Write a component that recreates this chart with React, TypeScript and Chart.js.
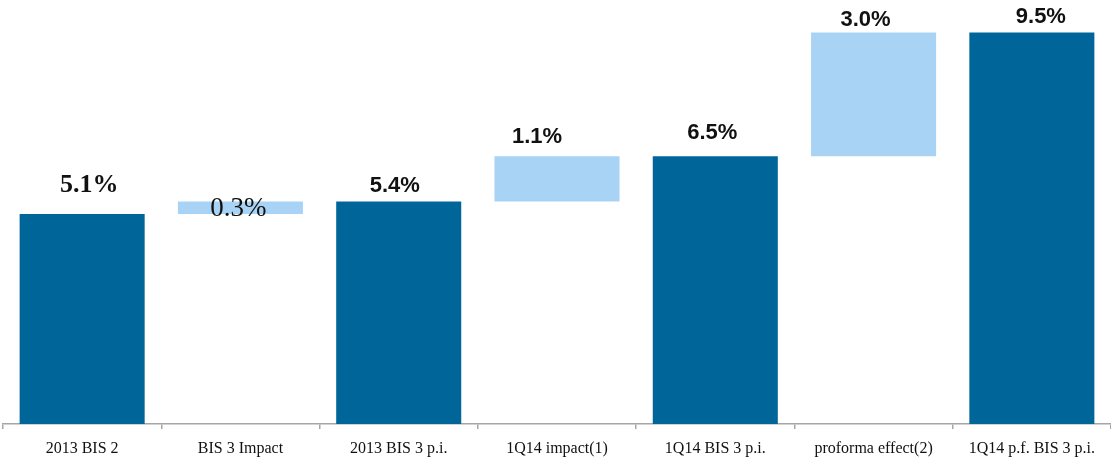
import React, { useEffect, useRef } from "react";
import { Chart, registerables } from "chart.js";

Chart.register(...registerables);

const categories = [
  "2013 BIS 2",
  "BIS 3 Impact",
  "2013 BIS 3 p.i.",
  "1Q14 impact(1)",
  "1Q14 BIS 3 p.i.",
  "proforma effect(2)",
  "1Q14 p.f. BIS 3 p.i.",
];
const barStarts = [0, 5.1, 0, 5.4, 0, 6.5, 0];
const barEnds = [5.1, 5.4, 5.4, 6.5, 6.5, 9.5, 9.5];
const valueLabels = ["5.1%", "0.3%", "5.4%", "1.1%", "6.5%", "3.0%", "9.5%"];
const isTotal = [true, false, true, false, true, false, true];

const DARK = "#006699";
const LIGHT = "#A9D3F5";
const AXIS = "#A6A6A6";

// label styling: font, horizontal nudge, gap above bar top (or "inside" centering)
const labelStyles = [
  { font: "bold 26px 'Liberation Serif'", dx: 7, gap: 22, inside: false },
  { font: "27px 'Liberation Serif'", dx: -2, gap: 0, inside: true },
  { font: "bold 22px 'Liberation Sans'", dx: -4, gap: 10, inside: false },
  { font: "bold 22px 'Liberation Sans'", dx: -20, gap: 13, inside: false },
  { font: "bold 22px 'Liberation Sans'", dx: -3, gap: 17, inside: false },
  { font: "bold 22px 'Liberation Sans'", dx: -8, gap: 7, inside: false },
  { font: "bold 22px 'Liberation Sans'", dx: 9, gap: 10, inside: false },
];

const labelPlugin = {
  id: "valueLabels",
  afterDatasetsDraw(chart: any) {
    const ctx = chart.ctx;
    const meta = chart.getDatasetMeta(0);
    ctx.save();
    ctx.fillStyle = "#111111";
    ctx.textAlign = "center";
    meta.data.forEach((el: any, i: number) => {
      const st = labelStyles[i];
      const top = Math.min(el.y, el.base);
      const bottom = Math.max(el.y, el.base);
      ctx.font = st.font;
      if (st.inside) {
        ctx.textBaseline = "middle";
        ctx.fillText(valueLabels[i], el.x + st.dx, (top + bottom) / 2 + 1);
      } else {
        ctx.textBaseline = "alphabetic";
        ctx.fillText(valueLabels[i], el.x + st.dx, top - st.gap);
      }
    });
    ctx.restore();
  },
};

export default function App() {
  const ref = useRef<HTMLCanvasElement>(null);
  useEffect(() => {
    if (!ref.current) return;
    const chart = new Chart(ref.current, {
      type: "bar",
      data: {
        labels: categories,
        datasets: [
          {
            data: barStarts.map((s, i) => [s, barEnds[i]]) as any,
            backgroundColor: isTotal.map((t) => (t ? DARK : LIGHT)),
            borderWidth: 0,
            categoryPercentage: 1,
            barPercentage: 0.79,
          },
        ],
      },
      options: {
        responsive: false,
        animation: false,
        layout: { padding: { top: 12, left: 3, right: 0, bottom: 0 } },
        plugins: {
          legend: { display: false },
          title: { display: false },
          tooltip: { enabled: false },
        },
        scales: {
          x: {
            offset: true,
            grid: {
              offset: true,
              drawOnChartArea: false,
              drawTicks: true,
              tickLength: 5,
              color: AXIS,
              lineWidth: 1.5,
            },
            border: { display: true, color: AXIS, width: 1.5 },
            ticks: {
              color: "#111111",
              font: { family: "'Liberation Serif'", size: 16 },
              padding: 10,
              maxRotation: 0,
              autoSkip: false,
            },
            afterFit(scale: any) {
              scale.height = 34;
            },
          },
          y: {
            display: false,
            min: 0,
            max: 10,
          },
        },
      },
      plugins: [labelPlugin],
    });
    return () => chart.destroy();
  }, []);
  return (
    <div style={{ position: "absolute", left: 0, top: 0, width: 1111, height: 458, background: "#fff" }}>
      <canvas ref={ref} width={1111} height={458} />
    </div>
  );
}
